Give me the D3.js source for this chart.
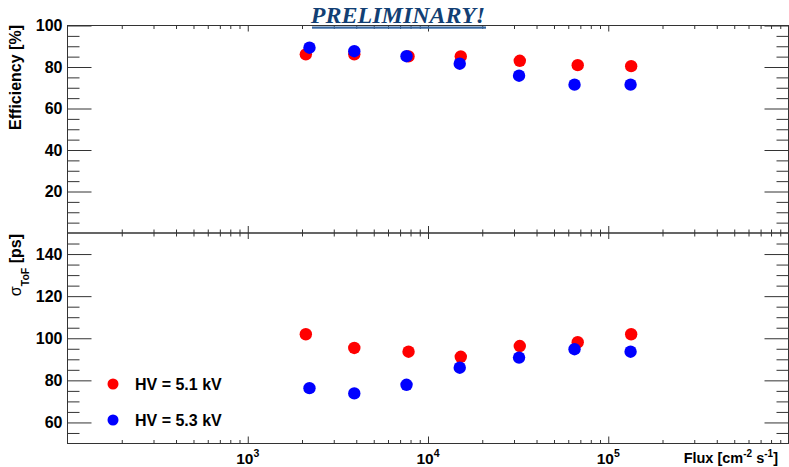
<!DOCTYPE html>
<html>
<head>
<meta charset="utf-8">
<script src="https://cdn.jsdelivr.net/npm/d3@7"></script>
<style>
  body { margin: 0; background: #fff; }
  svg { display: block; font-family: "Liberation Sans", Arial, sans-serif; }
</style>
</head>
<body>
<div id="canvas"></div>
<script>
// data
const fluxRed   = [2100, 3900, 7800, 15200, 32300, 67700, 134000];
const fluxBlue  = [2200, 3900, 7600, 15000, 32000, 65000, 133000];
const effRed    = [86.1, 86.1, 85.1, 85.1, 83.0, 80.9, 80.4];
const effBlue   = [89.3, 87.6, 85.2, 81.6, 75.8, 71.5, 71.5];
const sigmaRed  = [101.9, 95.4, 93.6, 91.2, 96.3, 98.1, 101.9];
const sigmaBlue = [76.3, 73.8, 77.9, 86.0, 90.8, 94.8, 93.6];

const effTicks   = [20, 40, 60, 80, 100];
const sigmaTicks = [60, 80, 100, 120, 140];
const decades    = [3, 4, 5];
const legendLabels = ["HV = 5.1 kV", "HV = 5.3 kV"];
const colors = ["#ff0000", "#0000ff"];

const W = 789, H = 467;
const left = 67.5, right = 788.5;

var svg = d3.select("#canvas").append("svg")
    .attr("width", W).attr("height", H);

var x = d3.scaleLog().domain([100, 1e6]).range([left, right]);

// minor x ticks: 2..9 per decade
var xMinor = [];
for (let k = 2; k <= 5; k++) for (let m = 2; m <= 9; m++) xMinor.push(m * Math.pow(10, k));
var xMajor = [1e3, 1e4, 1e5];

function panel(top, bottom, yDomain, major, yStep, series) {
    var y = d3.scaleLinear().domain(yDomain).range([bottom, top]);
    var g = svg.append("g");

    var minor = d3.range(yDomain[0] + yStep, yDomain[1], yStep)
        .filter(v => major.indexOf(v) < 0 && v % 20 !== 0);

    // left axis
    g.append("g").attr("transform", `translate(${left},0)`)
        .call(d3.axisLeft(y).tickValues(minor).tickSize(-12).tickFormat(""));
    g.append("g").attr("transform", `translate(${left},0)`)
        .call(d3.axisLeft(y).tickValues(major).tickSize(-24).tickPadding(5)
            .tickFormat(d3.format("d")))
        .selectAll("text")
        .style("font-size", "16px").style("font-weight", "bold").attr("fill", "#000");

    // right axis
    g.append("g").attr("transform", `translate(${right},0)`)
        .call(d3.axisRight(y).tickValues(minor).tickSize(-12).tickFormat(""));
    g.append("g").attr("transform", `translate(${right},0)`)
        .call(d3.axisRight(y).tickValues(major).tickSize(-24).tickFormat(""));

    // x ticks bottom (up) and top (down)
    g.append("g").attr("transform", `translate(0,${bottom})`)
        .call(d3.axisBottom(x).tickValues(xMinor).tickSize(-3.5).tickFormat(""));
    g.append("g").attr("transform", `translate(0,${bottom})`)
        .call(d3.axisBottom(x).tickValues(xMajor).tickSize(-7).tickFormat(""));
    g.append("g").attr("transform", `translate(0,${top})`)
        .call(d3.axisTop(x).tickValues(xMinor).tickSize(-3.5).tickFormat(""));
    g.append("g").attr("transform", `translate(0,${top})`)
        .call(d3.axisTop(x).tickValues(xMajor).tickSize(-6).tickFormat(""));

    g.selectAll(".domain").remove();
    g.selectAll(".tick line").attr("stroke", "#333");

    // frame
    g.append("rect")
        .attr("x", left).attr("y", top)
        .attr("width", right - left).attr("height", bottom - top)
        .attr("fill", "none").attr("stroke", "#333").attr("stroke-width", 1);

    // markers, red first then blue on top
    series.forEach((s, i) => {
        g.append("g").selectAll("circle")
            .data(s.xs.map((v, j) => [v, s.ys[j]]))
            .join("circle")
            .attr("cx", d => x(d[0]))
            .attr("cy", d => y(d[1]))
            .attr("r", 6.2)
            .attr("fill", colors[i]);
    });
    return y;
}

panel(25.5, 233, [0, 100], effTicks, 5,
    [{xs: fluxRed, ys: effRed}, {xs: fluxBlue, ys: effBlue}]);
panel(233, 443.5, [50, 150], sigmaTicks, 5,
    [{xs: fluxRed, ys: sigmaRed}, {xs: fluxBlue, ys: sigmaBlue}]);

// x tick labels 10^n
var xl = svg.append("g").selectAll("text")
    .data(decades).join("text")
    .attr("x", d => x(Math.pow(10, d)))
    .attr("y", 464)
    .attr("text-anchor", "middle")
    .style("font-size", "15.5px").style("font-weight", "bold");
xl.append("tspan").text("10");
xl.append("tspan").attr("dy", -7).style("font-size", "10.5px").text(d => d);

// x axis title
var xt = svg.append("text")
    .attr("x", 778).attr("y", 463)
    .attr("text-anchor", "end")
    .style("font-size", "14.5px").style("font-weight", "bold");
xt.append("tspan").text("Flux [cm");
xt.append("tspan").attr("dy", -6).style("font-size", "10px").text("-2");
xt.append("tspan").attr("dy", 6).text(" s");
xt.append("tspan").attr("dy", -6).style("font-size", "10px").text("-1");
xt.append("tspan").attr("dy", 6).text("]");

// y axis titles
svg.append("text")
    .attr("transform", "translate(21,25) rotate(-90)")
    .attr("text-anchor", "end")
    .style("font-size", "16px").style("font-weight", "bold")
    .text("Efficiency [%]");

var yt = svg.append("text")
    .attr("transform", "translate(20.5,234) rotate(-90)")
    .attr("text-anchor", "end")
    .style("font-size", "16px");
yt.append("tspan").text("σ");
yt.append("tspan").attr("dy", 8).style("font-size", "10.5px").style("font-weight", "bold").text("ToF");
yt.append("tspan").attr("dy", -8).style("font-weight", "bold").text(" [ps]");

// legend
var lg = svg.append("g").selectAll("g")
    .data(legendLabels).join("g")
    .attr("transform", (d, i) => `translate(113,${384 + i * 36})`);
lg.append("circle").attr("r", 5.5).attr("fill", (d, i) => colors[i]);
lg.append("text").attr("x", 22).attr("y", 5.5)
    .style("font-size", "16px").style("font-weight", "bold")
    .text(d => d);

// PRELIMINARY! banner
svg.append("rect")
    .attr("x", 312).attr("y", 26.5).attr("width", 174).attr("height", 2.2)
    .attr("fill", "#3566a0");
svg.append("text")
    .attr("x", 398).attr("y", 22.5)
    .attr("text-anchor", "middle")
    .style("font-family", "'Liberation Serif', 'Times New Roman', serif")
    .style("font-style", "italic").style("font-weight", "bold")
    .style("font-size", "24px")
    .attr("fill", "#123f74")
    .text("PRELIMINARY!");
</script>
</body>
</html>
